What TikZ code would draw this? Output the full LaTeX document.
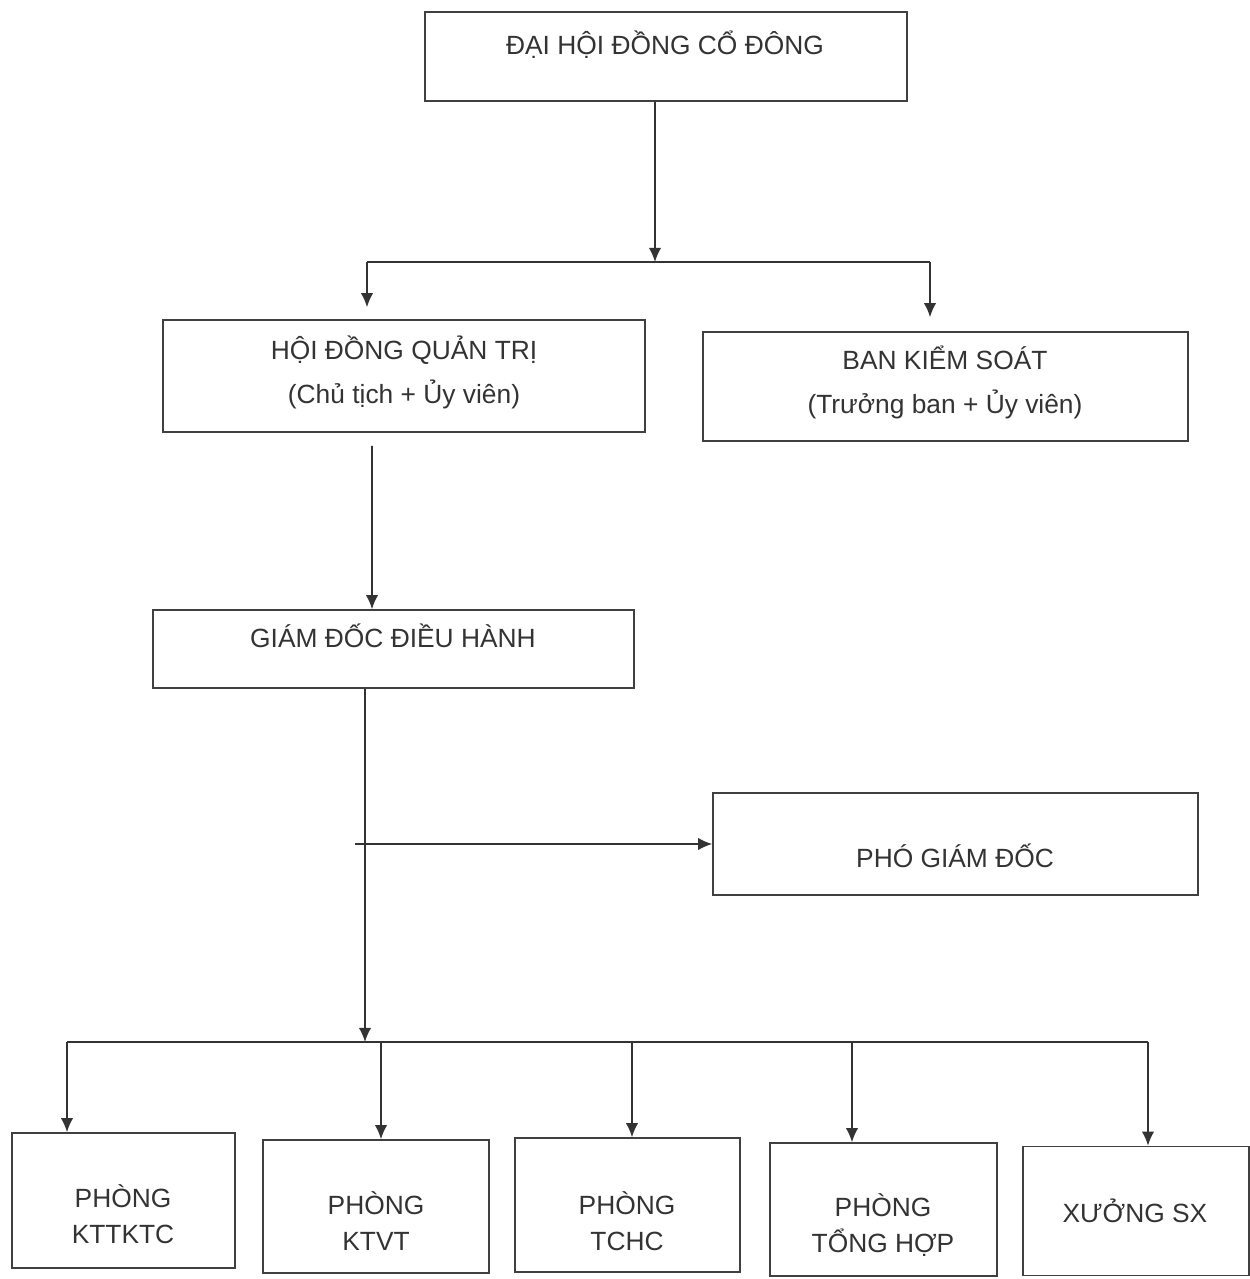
\documentclass[tikz,border=0pt]{standalone}
\usepackage{fontspec}
\setmainfont{Liberation Sans}
\usetikzlibrary{arrows.meta}

\begin{document}
\begin{tikzpicture}
      [x=0.02cm, y=-0.02cm,
        box/.style={draw=black!75, line width=0.9pt, inner sep=0pt},
        lbl/.style={font=\fontsize{15}{25.5}\selectfont, text=black!80, align=center},
        lbls/.style={font=\fontsize{15}{20.5}\selectfont, text=black!80, align=center},
        link/.style={draw=black!80, line width=0.9pt},
        arr/.style={link, -{Latex[length=8pt,width=7pt]}}]
  \useasboundingbox (0,0) rectangle (1250,1279);
  % upper levels
  \node[box, minimum width=9.64cm, minimum height=1.78cm] (dhd) at (666,56.5) {};
  \node[lbl] (dhdT) at (665,45) {ĐẠI HỘI ĐỒNG CỔ ĐÔNG};
  \node[box, minimum width=9.64cm, minimum height=2.24cm] (hdqt) at (404,376) {};
  \node[lbl] (hdqtT) at (404,372.5) {HỘI ĐỒNG QUẢN TRỊ\\(Chủ tịch + Ủy viên)};
  \node[box, minimum width=9.7cm, minimum height=2.18cm] (bks) at (945.5,386.5) {};
  \node[lbl] (bksT) at (945,382.5) {BAN KIỂM SOÁT\\(Trưởng ban + Ủy viên)};
  \node[box, minimum width=9.62cm, minimum height=1.56cm] (gddh) at (393.5,649) {};
  \node[lbl] (gddhT) at (393,636) {GIÁM ĐỐC ĐIỀU HÀNH};
  \node[box, minimum width=9.7cm, minimum height=2.04cm] (pgd) at (955.5,844) {};
  \node[lbl] (pgdT) at (955,856) {PHÓ GIÁM ĐỐC};
  % departments
  \node[box, minimum width=4.46cm, minimum height=2.7cm] (p1) at (123.5,1200.5) {};
  \node[lbls] (p1T) at (123,1214) {PHÒNG\\KTTKTC};
  \node[box, minimum width=4.52cm, minimum height=2.66cm] (p2) at (376,1206.5) {};
  \node[lbls] (p2T) at (376,1221.5) {PHÒNG\\KTVT};
  \node[box, minimum width=4.5cm, minimum height=2.68cm] (p3) at (627.5,1205) {};
  \node[lbls] (p3T) at (627,1221) {PHÒNG\\TCHC};
  \node[box, minimum width=4.54cm, minimum height=2.66cm] (p4) at (883.5,1209.5) {};
  \node[lbls] (p4T) at (883,1225) {PHÒNG\\TỔNG HỢP};
  \node[box, minimum width=4.52cm, minimum height=2.58cm] (p5) at (1136,1211) {};
  \node[lbls] (p5T) at (1135,1211) {XƯỞNG SX};
  % connectors
  \coordinate (top) at (655,262);
  \coordinate (topL) at (367,262);
  \coordinate (topR) at (930,262);
  \draw[arr] ([xshift=-0.22cm]dhd.south) -- (top);
  \draw[link] (topL) -- (topR);
  \draw[arr, shorten >=0.24cm] (topL) -- (topL |- hdqt.north);
  \draw[arr, shorten >=0.28cm] (topR) -- (topR |- bks.north);
  \draw[arr, shorten <=0.26cm] ([xshift=-0.64cm]hdqt.south) -- ([xshift=-0.43cm]gddh.north);
  \coordinate (bus) at (365,1042);
  \draw[arr] ([xshift=-0.57cm]gddh.south) -- (bus);
  \coordinate (pgdFrom) at (355,844);
  \draw[arr] (pgdFrom) -- (pgd.west);
  \foreach \n/\x in {p1/67, p2/381, p3/632, p4/852, p5/1148}
    \coordinate (b\n) at (\x,1042);
  \draw[link] (bp1) -- (bp5);
  \foreach \n in {p1,p2,p3,p4,p5}
    \draw[arr] (b\n) -- (b\n |- \n.north);
\end{tikzpicture}
\end{document}
